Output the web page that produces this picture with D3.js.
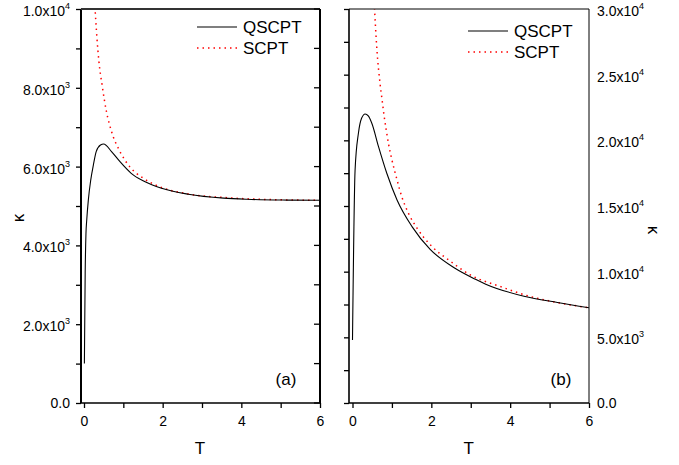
<!DOCTYPE html>
<html>
<head>
<meta charset="utf-8">
<script src="https://cdn.jsdelivr.net/npm/d3@7"></script>
<style>
  body { margin: 0; background: #fff; }
  svg { font-family: "Liberation Sans", Arial, sans-serif; }
</style>
</head>
<body>
<svg id="chart" width="679" height="465"></svg>
<script>
// values: [T, kappa]
var qscptA = [[0.01, 1000], [0.03, 3300], [0.05, 4300], [0.07, 4650], [0.11, 5150], [0.17, 5650],
  [0.24, 6050], [0.31, 6380], [0.42, 6550], [0.50, 6575], [0.70, 6380], [0.91, 6130], [1.20, 5830],
  [1.54, 5620], [1.97, 5450], [2.65, 5300], [3.55, 5200], [4.15, 5170], [5.17, 5150], [6.0, 5145]];
var scptA = [[0.27, 10200], [0.33, 9250], [0.38, 8660], [0.46, 8070], [0.57, 7400], [0.70, 6890],
  [0.91, 6390], [1.16, 6000], [1.50, 5710], [1.97, 5470], [2.65, 5305], [3.64, 5210], [4.49, 5170],
  [6.0, 5145]];
var qscptB = [[0.0, 4800], [0.065, 17700], [0.15, 20540], [0.23, 21680], [0.32, 22010], [0.40, 21860],
  [0.49, 21300], [0.66, 19520], [0.87, 17490], [1.13, 15460], [1.51, 13430], [1.97, 11700],
  [2.60, 10260], [3.12, 9420], [3.38, 9050], [4.35, 8130], [5.2, 7650], [6.0, 7250]];
var scptB = [[0.55, 30500], [0.62, 26880], [0.70, 24300], [0.75, 23100], [0.80, 21900], [0.85, 20900],
  [0.91, 19800], [1.0, 18510], [1.13, 16985], [1.25, 15710], [1.42, 14450], [1.64, 13300],
  [2.02, 11900], [2.44, 10890], [2.99, 9750], [3.76, 8860], [4.52, 8100], [5.2, 7650], [6.0, 7250]];

var xTicks = [0, 1, 2, 3, 4, 5, 6];
var yTicksA = d3.range(0, 10001, 1000);
var yLabelsA = [0, 2000, 4000, 6000, 8000, 10000];
var yTicksB = d3.range(0, 30001, 2500);
var yLabelsB = [0, 5000, 10000, 15000, 20000, 25000, 30000];
var seriesNames = ["QSCPT", "SCPT"];

var svg = d3.select("#chart");
var plotTop = 9, plotBottom = 403;
var dots = "1.5,4";

function sciLabel(sel, v) {
  sel.text(null);
  if (v === 0) { sel.text("0.0"); return; }
  var e = Math.floor(Math.log10(v) + 1e-9);
  var m = (v / Math.pow(10, e)).toFixed(1);
  sel.append("tspan").text(m + "x10");
  sel.append("tspan").attr("dy", -7).attr("font-size", 9).text(e);
}

function panel(id, frameLeft, x0, x1, yMax, yTicks, yLabels, qs, sc, opt) {
  var x = d3.scaleLinear().domain([0, 6]).range([x0, x1]);
  var y = d3.scaleLinear().domain([0, yMax]).range([plotBottom, plotTop]);
  var g = svg.append("g");

  g.append("clipPath").attr("id", "clip" + id)
    .append("rect").attr("x", frameLeft).attr("y", plotTop)
    .attr("width", x1 - frameLeft).attr("height", plotBottom - plotTop);

  var line = d3.line().x(function(d) { return x(d[0]); }).y(function(d) { return y(d[1]); })
    .curve(d3.curveMonotoneX);

  g.append("path").datum(sc).attr("clip-path", "url(#clip" + id + ")")
    .attr("fill", "none").attr("stroke", "#ff0000").attr("stroke-width", 1.5)
    .attr("stroke-dasharray", dots).attr("d", line);
  g.append("path").datum(qs).attr("clip-path", "url(#clip" + id + ")")
    .attr("fill", "none").attr("stroke", "#000").attr("stroke-width", 1.1)
    .attr("d", line);

  // bottom axis
  var xa = g.append("g").attr("transform", "translate(0," + plotBottom + ")")
    .call(d3.axisBottom(x).tickValues(xTicks).tickSize(5).tickPadding(8)
      .tickFormat(function(d) { return d % 2 === 0 ? d : ""; }));
  xa.select(".domain").remove();
  xa.selectAll(".tick line").attr("stroke-width", 1.3);
  xa.selectAll(".tick text").attr("font-size", 14).attr("fill", "#000")
    .attr("font-family", "Liberation Sans, Arial, sans-serif");

  // left axis
  var ya = g.append("g").attr("transform", "translate(" + frameLeft + ",0)")
    .call(d3.axisLeft(y).tickValues(yTicks).tickSize(5).tickFormat(""));
  ya.select(".domain").remove();
  ya.selectAll(".tick line").attr("stroke-width", 1.3);

  // frame
  g.append("line").attr("x1", frameLeft).attr("x2", frameLeft).attr("y1", plotTop).attr("y2", plotBottom)
    .attr("stroke", "#000").attr("stroke-width", opt.leftW);
  g.append("line").attr("x1", frameLeft).attr("x2", x1).attr("y1", plotBottom).attr("y2", plotBottom)
    .attr("stroke", "#000").attr("stroke-width", 1.5);
  g.append("line").attr("x1", frameLeft).attr("x2", x1).attr("y1", plotTop).attr("y2", plotTop)
    .attr("stroke", opt.topColor).attr("stroke-width", opt.topW);
  g.append("line").attr("x1", x1).attr("x2", x1).attr("y1", plotTop).attr("y2", plotBottom)
    .attr("stroke", "#000").attr("stroke-width", opt.rightW);

  if (opt.innerRightTicks) {
    g.selectAll(".rt").data(yTicks).enter().append("line")
      .attr("x1", x1 - 6).attr("x2", x1)
      .attr("y1", function(d) { return y(d); }).attr("y2", function(d) { return y(d); })
      .attr("stroke", "#000").attr("stroke-width", 1.3);
  }

  // y tick labels
  g.selectAll(".yl").data(yLabels).enter().append("text")
    .attr("x", opt.labelRight ? x1 + 8 : frameLeft - 11)
    .attr("y", function(d) { return y(d) + (d === 0 ? 5 : 7); })
    .attr("text-anchor", opt.labelRight ? "start" : "end")
    .attr("font-size", 14)
    .each(function(d) { sciLabel(d3.select(this), d); });

  // axis titles
  g.append("text").attr("x", (x0 + x1) / 2 - 2).attr("y", 454).attr("text-anchor", "middle")
    .attr("font-size", 17).text("T");
  g.append("text").attr("transform", "translate(" + opt.kx + "," + opt.ky + ") rotate(" + opt.krot + ")")
    .attr("text-anchor", "middle").attr("font-size", 17).text("\u03ba");

  // legend
  var lg = g.append("g");
  lg.append("line").attr("x1", opt.legX).attr("x2", opt.legX + 40).attr("y1", opt.legY).attr("y2", opt.legY)
    .attr("stroke", "#000").attr("stroke-width", 1.1);
  lg.append("line").attr("x1", opt.legX).attr("x2", opt.legX + 40)
    .attr("y1", opt.legY + 21).attr("y2", opt.legY + 21)
    .attr("stroke", "#ff0000").attr("stroke-width", 1.5).attr("stroke-dasharray", dots);
  lg.selectAll(".lt").data(seriesNames).enter().append("text")
    .attr("x", opt.legX + 46).attr("y", function(d, i) { return opt.legY + 6 + i * 21; })
    .attr("font-size", 17).text(function(d) { return d; });

  g.append("text").attr("x", opt.tagX).attr("y", 385).attr("text-anchor", "middle")
    .attr("font-size", 17).text(opt.tag);
}

panel("a", 81, 84, 320, 10000, yTicksA, yLabelsA, qscptA, scptA,
  { leftW: 2, topW: 2, topColor: "#333", rightW: 2, innerRightTicks: true, labelRight: false,
    kx: 24, ky: 218, krot: -90, legX: 197, legY: 27, tagX: 286, tag: "(a)" });
panel("b", 349, 352.5, 589, 30000, yTicksB, yLabelsB, qscptB, scptB,
  { leftW: 1.6, topW: 1, topColor: "#000", rightW: 1, innerRightTicks: false, labelRight: true,
    kx: 648, ky: 230, krot: 90, legX: 468, legY: 31, tagX: 561, tag: "(b)" });
</script>
</body>
</html>
